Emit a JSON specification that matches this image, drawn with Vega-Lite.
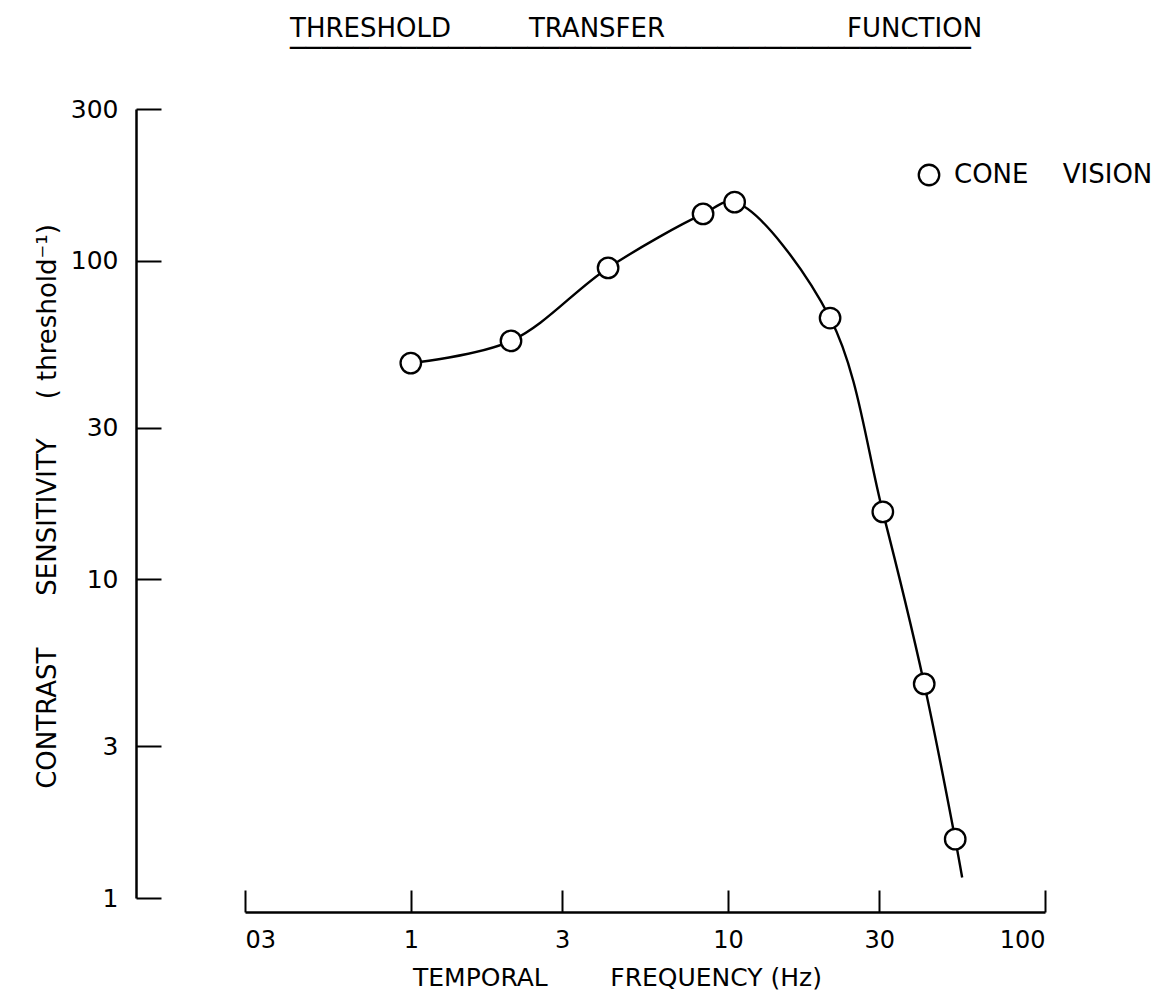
{
  "$schema": "https://vega.github.io/schema/vega-lite/v6.json",
  "autosize": {"type": "none"},
  "width": 800,
  "height": 789,
  "padding": {"left": 245, "top": 109, "right": 126, "bottom": 92},
  "background": "white",
  "config": {
    "view": {"stroke": null},
    "font": "DejaVu Sans",
    "axis": {"grid": false, "domainColor": "black", "tickColor": "black", "labelColor": "black", "titleColor": "black", "labelFont": "DejaVu Sans", "titleFont": "DejaVu Sans", "titleFontWeight": "normal"}
  },
  "title": {
    "text": "THRESHOLD\u2003\u2003\u2003TRANSFER\u2003\u2003\u2003\u2003\u2003\u2003\u2003FUNCTION",
    "subtitle": "───────────────────────────────────────────",
    "anchor": "start",
    "frame": "group",
    "dx": 45,
    "offset": 35,
    "fontSize": 26,
    "fontWeight": "normal",
    "color": "black",
    "subtitleFontSize": 26.3,
    "subtitleColor": "black",
    "subtitlePadding": -6,
    "font": "DejaVu Sans",
    "subtitleFont": "DejaVu Sans"
  },
  "datasets": {
    "pts": [
      {"f": 1.0, "s": 47.8, "series": "CONE\u2003 VISION"},
      {"f": 2.07, "s": 56.1, "series": "CONE\u2003 VISION"},
      {"f": 4.19, "s": 95.1, "series": "CONE\u2003 VISION"},
      {"f": 8.35, "s": 140.5, "series": "CONE\u2003 VISION"},
      {"f": 10.5, "s": 153, "series": "CONE\u2003 VISION"},
      {"f": 21.0, "s": 66.2, "series": "CONE\u2003 VISION"},
      {"f": 30.8, "s": 16.3, "series": "CONE\u2003 VISION"},
      {"f": 41.6, "s": 4.7, "series": "CONE\u2003 VISION"},
      {"f": 52.1, "s": 1.53, "series": "CONE\u2003 VISION"}
    ],
    "curve": [
      {"f": 1.0, "s": 47.8},
      {"f": 2.07, "s": 56.1},
      {"f": 4.19, "s": 95.1},
      {"f": 8.35, "s": 140.5},
      {"f": 10.5, "s": 153},
      {"f": 21.0, "s": 66.2},
      {"f": 30.8, "s": 16.3},
      {"f": 41.6, "s": 4.7},
      {"f": 52.1, "s": 1.53},
      {"f": 54.8, "s": 1.16}
    ]
  },
  "layer": [
    {
      "data": {"name": "curve"},
      "mark": {"type": "line", "interpolate": "catmull-rom", "color": "black", "strokeWidth": 2.4, "clip": false},
      "encoding": {
        "x": {"field": "f", "type": "quantitative", "scale": {"type": "log", "domain": [0.3, 100], "nice": false},
          "axis": {"orient": "bottom", "offset": 14, "values": [0.3, 1, 3, 10, 30, 100], "labelExpr": "datum.value < 0.5 ? '03' : format(datum.value, 'd')", "tickSize": -22, "tickWidth": 2, "domainWidth": 2.5, "labelFontSize": 24, "labelPadding": 38, "title": "TEMPORAL\u2003\u2003\u2002FREQUENCY (Hz)", "titleFontSize": 25, "titleX": 372, "titleY": 53}},
        "y": {"field": "s", "type": "quantitative", "scale": {"type": "log", "domain": [1, 300], "nice": false},
          "axis": {"orient": "left", "offset": 109, "values": [1, 3, 10, 30, 100, 300], "format": "d", "tickSize": -25, "tickWidth": 2, "domainWidth": 2.5, "labelFontSize": 25, "labelPadding": 43, "title": "CONTRAST\u2003\u2003SENSITIVITY\u2003\u2002( threshold⁻¹)", "titleFontSize": 26, "titleX": -76, "titleY": 397}}
      }
    },
    {
      "data": {"name": "pts"},
      "mark": {"type": "point", "filled": true, "fill": "white", "strokeWidth": 2.3, "size": 420, "opacity": 1, "clip": false},
      "encoding": {
        "x": {"field": "f", "type": "quantitative"},
        "y": {"field": "s", "type": "quantitative"},
        "stroke": {"field": "series", "type": "nominal", "scale": {"range": ["black"]},
          "legend": {"title": null, "orient": "none", "legendX": 671, "legendY": 53, "symbolType": "circle", "symbolSize": 420, "symbolStrokeWidth": 2.3, "symbolFillColor": "white", "labelFontSize": 26, "labelColor": "black", "labelLimit": 400, "labelOffset": 12, "labelFont": "DejaVu Sans",
            "encode": {"symbols": {"update": {"fill": {"value": "white"}, "stroke": {"value": "black"}, "strokeWidth": {"value": 2.3}, "opacity": {"value": 1}}}}}}
      }
    }
  ]
}
